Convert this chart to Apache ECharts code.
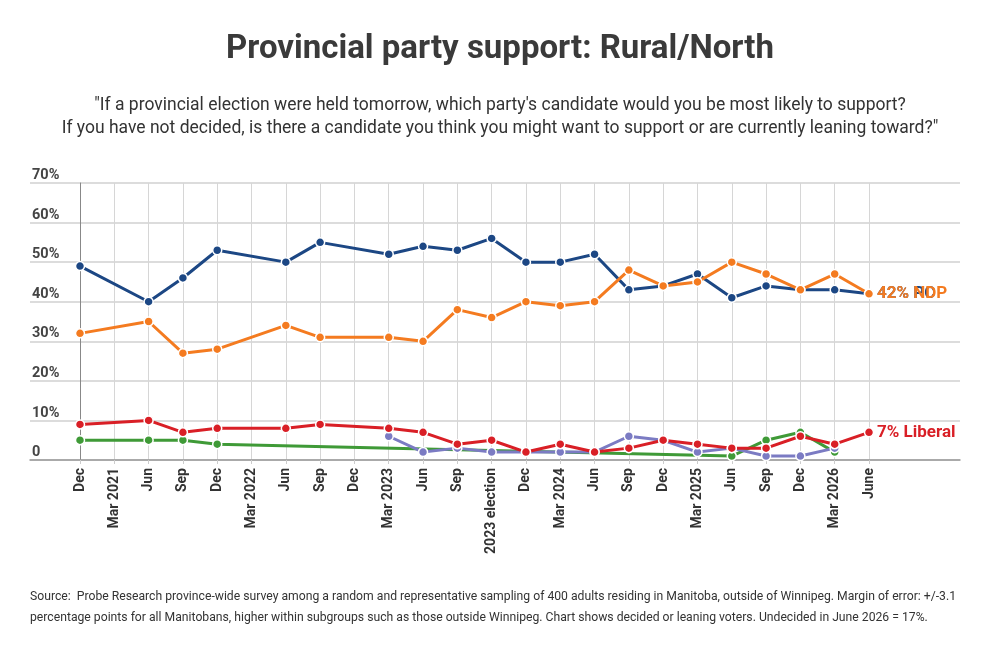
<!DOCTYPE html>
<html>
<head>
<meta charset="utf-8">
<script src="https://cdn.jsdelivr.net/npm/echarts@6/dist/echarts.min.js"></script>
<style>
  html, body { margin: 0; padding: 0; background: #fff; }
  #chart { width: 1000px; height: 653px; }
</style>
</head>
<body>
<div id="chart"></div>
<script>
// survey waves (category axis)
var waves = ['Dec', 'Mar 2021', 'Jun', 'Sep', 'Dec', 'Mar 2022', 'Jun', 'Sep', 'Dec',
  'Mar 2023', 'Jun', 'Sep', '2023 election', 'Dec', 'Mar 2024', 'Jun', 'Sep', 'Dec',
  'Mar 2025', 'Jun', 'Sep', 'Dec', 'Mar 2026', 'June'];

// support in %, null = no reading for that wave
var pc      = [49, null, 40, 46, 53, null, 50, 55, null, 52, 54, 53, 56, 50, 50, 52, 43, 44, 47, 41, 44, 43, 43, 42];
var ndp     = [32, null, 35, 27, 28, null, 34, 31, null, 31, 30, 38, 36, 40, 39, 40, 48, 44, 45, 50, 47, 43, 47, 42];
var liberal = [9, null, 10, 7, 8, null, 8, 9, null, 8, 7, 4, 5, 2, 4, 2, 3, 5, 4, 3, 3, 6, 4, 7];
var green   = [5, null, 5, 5, 4, null, null, null, null, null, null, null, null, null, null, null, null, null, null, 1, 5, 7, 2, null];
var other   = [null, null, null, null, null, null, null, null, null, 6, 2, 3, 2, 2, 2, 2, 6, 5, 2, 3, 1, 1, 3, null];

var chart = echarts.init(document.getElementById('chart'));

function lineSeries(name, data, color, endText) {
  return {
    name: name,
    type: 'line',
    xAxisIndex: 1,
    yAxisIndex: 1,
    data: data,
    connectNulls: true,
    symbol: 'circle',
    symbolSize: 9,
    lineStyle: { width: 3, color: color },
    itemStyle: { color: color, borderColor: '#fff', borderWidth: 1.5 },
    endLabel: {
      show: !!endText,
      formatter: endText || '',
      color: color,
      fontFamily: 'Roboto',
      fontWeight: 'bold',
      fontSize: 17,
      distance: 8
    },
    emphasis: { disabled: true },
    animation: false
  };
}

chart.setOption({
  backgroundColor: '#fff',
  textStyle: { fontFamily: 'Roboto' },
  title: {
    text: 'Provincial party support: Rural/North',
    left: 'center',
    top: 28,
    textStyle: { fontFamily: 'Roboto', fontWeight: 'bold', fontSize: 33, color: '#3a3a3a' }
  },
  grid: [
    { left: 30, right: 40, top: 183, bottom: 193 },
    { left: 80, right: 131, top: 183, bottom: 193 }
  ],
  xAxis: [{
    gridIndex: 0,
    type: 'value',
    min: 0,
    max: 1,
    axisLine: { show: true, onZero: false, lineStyle: { color: '#999', width: 1.5 } },
    axisTick: { show: false },
    axisLabel: { show: false },
    splitLine: { show: false }
  }, {
    gridIndex: 1,
    type: 'category',
    data: waves,
    boundaryGap: false,
    axisLine: { show: false },
    axisTick: { show: true, length: 4, lineStyle: { color: '#ccc' } },
    axisLabel: {
      rotate: 90,
      interval: 0,
      margin: 8,
      color: '#333',
      fontFamily: 'Roboto',
      fontWeight: 'bold',
      fontSize: 14
    },
    splitLine: { show: true, lineStyle: { color: '#d6d6d6', width: 1 } }
  }],
  yAxis: [{
    gridIndex: 0,
    type: 'value',
    min: 0,
    max: 70,
    interval: 10,
    axisLine: { show: false },
    axisTick: { show: false },
    axisLabel: {
      inside: true,
      margin: 2,
      verticalAlign: 'bottom',
      padding: [0, 0, 0, 0],
      color: '#444',
      fontFamily: 'Roboto',
      fontWeight: 'bold',
      fontSize: 14.5,
      formatter: function (v) { return v === 0 ? '0' : v + '%'; }
    },
    splitLine: { show: true, lineStyle: { color: '#dcdcdc', width: 2 } }
  }, {
    gridIndex: 1,
    type: 'value',
    min: 0,
    max: 70,
    interval: 10,
    axisLine: { show: true, lineStyle: { color: '#888', width: 1 } },
    axisTick: { show: false },
    axisLabel: { show: false },
    splitLine: { show: false }
  }],
  series: [
    lineSeries('Green', green, '#3f9a37'),
    lineSeries('Other', other, '#7b7bc3'),
    lineSeries('Liberal', liberal, '#d91f26', '7% Liberal'),
    lineSeries('PC', pc, '#1c4784', '42% PC'),
    lineSeries('NDP', ndp, '#f47b20', '42% NDP')
  ],
  graphic: [{
    type: 'text',
    x: 500,
    y: 94,
    style: {
      text: '"If a provincial election were held tomorrow, which party\'s candidate would you be most likely to support?\nIf you have not decided, is there a candidate you think you might want to support or are currently leaning toward?"',
      align: 'center',
      fontFamily: 'Roboto',
      fontSize: 17.5,
      lineHeight: 23,
      fill: '#333'
    }
  }, {
    type: 'text',
    left: 30,
    top: 586,
    style: {
      text: 'Source:  Probe Research province-wide survey among a random and representative sampling of 400 adults residing in Manitoba, outside of Winnipeg. Margin of error: +/-3.1\npercentage points for all Manitobans, higher within subgroups such as those outside Winnipeg. Chart shows decided or leaning voters. Undecided in June 2026 = 17%.',
      fontFamily: 'Roboto',
      fontSize: 12.2,
      lineHeight: 21,
      fill: '#333'
    }
  }]
});
</script>
</body>
</html>
